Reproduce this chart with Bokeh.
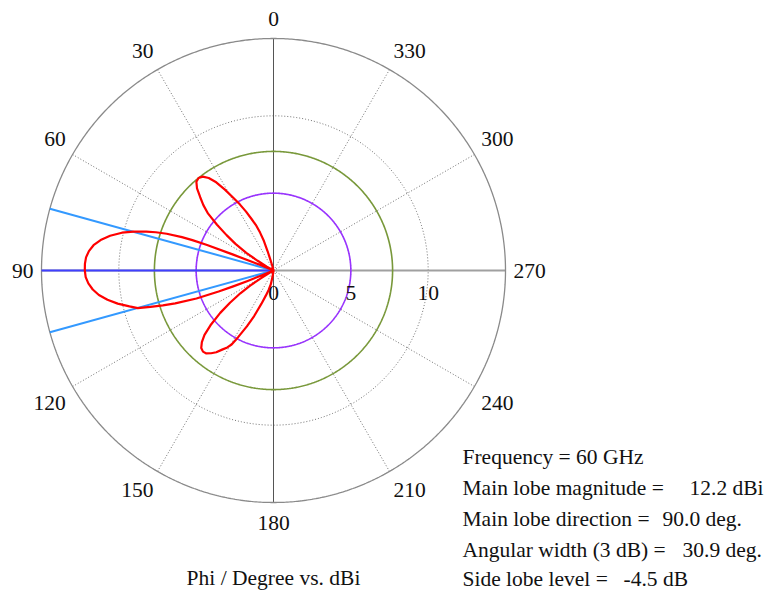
import numpy as np
from bokeh.plotting import figure
from bokeh.models import Range1d
from bokeh.core.properties import value
from bokeh.embed import file_html
from bokeh.resources import INLINE

# Farfield cut: phi (deg) vs. realized gain (dBi); values below 0 dBi sit at the centre
phi_deg = [0, 12, 14.5, 16, 17, 18, 19.5, 21, 23, 25, 27, 29, 31, 33, 35, 37, 39,
           41, 43, 45, 47, 49, 51, 53, 55, 57, 58.5, 59.5, 60.5,
           66.5, 67.5, 68, 68.5, 69, 69.5, 70, 71, 72, 73, 74.5, 76, 78, 80, 82,
           84, 86, 88, 90, 92, 94, 96, 98, 100, 102, 104, 105.5, 106.5, 107.5,
           108.5, 110, 111, 111.5, 112, 112.5, 113,
           119, 121, 122, 123, 124.5, 126.5, 128.5, 131, 133, 135, 137, 139, 141,
           143, 145, 147, 149, 150.5, 152, 154.5, 157, 160, 163, 166, 169, 171, 172,
           180, 270, 360]
gain_dbi = [0, 0, 0.3, 0.7, 1.3, 2.0, 2.6, 3.1, 3.6, 4.2, 4.8, 5.4, 6.1, 6.8, 7.3, 7.6, 7.7,
            7.6, 7.25, 6.7, 6.2, 5.6, 4.7, 3.8, 3.0, 2.1, 1.2, 0.5, 0,
            0, 1.0, 1.6, 2.8, 4.6, 5.6, 6.3, 7.3, 8.0, 8.6, 9.4, 10.1, 10.8, 11.35, 11.75,
            12.0, 12.15, 12.2, 12.2, 12.15, 12.0, 11.75, 11.4, 10.9, 10.3, 9.6, 9.1, 8.3, 7.5,
            6.7, 5.3, 3.8, 2.8, 1.8, 0.8, 0,
            0, 0.3, 1.0, 1.8, 2.6, 3.5, 4.4, 5.4, 6.1, 6.55, 6.85, 6.95, 6.9,
            6.7, 6.45, 6.1, 5.8, 5.5, 4.9, 4.0, 3.2, 2.3, 1.7, 1.3, 0.9, 0.4, 0,
            0, 0, 0]

# Summary figures of the cut
frequency_ghz = 60
main_lobe_dbi = 12.2
main_lobe_dir = 90.0
beamwidth_3db = 30.9
side_lobe_db = -4.5
ref_circle_dbi = 5.0

angle_ticks = [0, 30, 60, 90, 120, 150, 180, 210, 240, 270, 300, 330]
radial_ticks = [0, 5, 10]
r_max = 15

# pixel geometry of the polar frame
W, H = 771, 591
CX, CY = 273, 270
R_PX = 232
s = R_PX / r_max
FS = "21.5px"


def px(x):
    return (x - CX) / s


def py(y):
    return (CY - y) / s


def polar(r, phi):
    a = np.radians(np.asarray(phi, dtype=float))
    r = np.asarray(r, dtype=float)
    return -r * np.sin(a), r * np.cos(a)


p = figure(width=W, height=H, output_backend="svg", toolbar_location=None,
           x_range=Range1d(px(0), px(W)), y_range=Range1d(py(H), py(0)),
           min_border=0, background_fill_color="white", border_fill_color="white")
p.axis.visible = False
p.grid.visible = False
p.outline_line_color = None

FONT = value("Liberation Serif")
t = np.linspace(0, 360, 721)

# dotted grid rings and spokes
for rr in radial_ticks[1:]:
    gx, gy = polar(np.full_like(t, rr), t)
    p.line(gx, gy, line_color="#707070", line_width=1, line_dash="1 2")
for a in angle_ticks:
    if a % 90:
        sx, sy = polar([0, r_max], [a, a])
        p.line(sx, sy, line_color="#707070", line_width=1, line_dash="1 2")

# main axes
hx, hy = polar([r_max, r_max], [90, 270])
p.line(hx, hy, line_color="#a0a0a0", line_width=2)
vx, vy = polar([r_max, r_max], [0, 180])
p.line(vx, vy, line_color="#555555", line_width=1)

# outer ring
ox, oy = polar(np.full_like(t, r_max), t)
p.line(ox, oy, line_color="#8a8a8a", line_width=1.3)

# reference rings: fixed level and side lobe level
cx_, cy_ = polar(np.full_like(t, ref_circle_dbi), t)
p.line(cx_, cy_, line_color="#9933ff", line_width=1.6)
sl = main_lobe_dbi + side_lobe_db
gx, gy = polar(np.full_like(t, sl), t)
p.line(gx, gy, line_color="#78983a", line_width=1.6)

# main lobe direction and 3 dB beamwidth
for a in (main_lobe_dir - beamwidth_3db / 2, main_lobe_dir + beamwidth_3db / 2):
    bx, by = polar([0, r_max], [a, a])
    p.line(bx, by, line_color="#3399ff", line_width=2)
mx, my = polar([0, r_max], [main_lobe_dir, main_lobe_dir])
p.line(mx, my, line_color="#3f3fff", line_width=2)

# pattern
rr = np.clip(np.array(gain_dbi), 0, None)
fx, fy = polar(rr, phi_deg)
p.line(fx, fy, line_color="#ff0000", line_width=2.2, line_join="round")

# angle labels: anchored just outside the ring, pushed up/down and left/right
ax, ay = polar(np.full(len(angle_ticks), r_max + 8 / s), angle_ticks)
for a, x0, y0 in zip(angle_ticks, ax, ay):
    if a in (0, 180):
        align = "center"
    elif a < 180:
        align = "right"
    else:
        align = "left"
    if a in (90, 270):
        dy = 0
    elif a < 90 or a > 270:
        dy = 12 / s
    else:
        dy = -12 / s
    p.text([x0], [y0 + dy], text=[str(a)], text_font=FONT, text_font_size=FS,
           text_align=align, text_baseline="middle", text_color="#111111")

# radial labels
rx = [px(CX + v * s) for v in radial_ticks]
p.text(rx, [py(292)] * len(rx), text=[str(v) for v in radial_ticks], text_font=FONT,
       text_font_size=FS, text_align="center", text_baseline="middle",
       text_color="#111111")

# axis caption
p.text([px(CX)], [py(577)], text=["Phi / Degree vs. dBi"], text_font=FONT,
       text_font_size=FS, text_align="center", text_baseline="middle",
       text_color="#111111")

# summary block
rows_y = [456, 487, 518, 549, 578]
names = [f"Frequency = {frequency_ghz} GHz", "Main lobe magnitude =",
         "Main lobe direction =", "Angular width (3 dB) =", "Side lobe level ="]
p.text([px(462)] * 5, [py(v) for v in rows_y], text=names, text_font=FONT,
       text_font_size=FS, text_align="left", text_baseline="middle",
       text_color="#111111")
vals = [f"{main_lobe_dbi:.1f} dBi", f"{main_lobe_dir:.1f} deg.",
        f"{beamwidth_3db:.1f} deg.", f"{side_lobe_db:.1f} dB"]
val_x = [689, 662, 682, 623]
p.text([px(v) for v in val_x], [py(v) for v in rows_y[1:]], text=vals, text_font=FONT,
       text_font_size=FS, text_align="left", text_baseline="middle",
       text_color="#111111")

open("out.html", "w").write(file_html(p, INLINE))
